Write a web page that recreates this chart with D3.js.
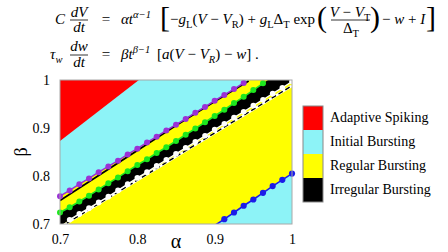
<!DOCTYPE html>
<html>
<head>
<meta charset="utf-8">
<script src="https://cdn.jsdelivr.net/npm/d3@7"></script>
<style>
  html, body { margin: 0; padding: 0; background: #fff; }
  svg text { font-family: "Liberation Serif", "Times New Roman", Tinos, "DejaVu Serif", serif; fill: #000; }
</style>
</head>
<body>
<div id="chartDiv"></div>
<script>
// axis ticks
const alphaTicks = [0.7, 0.8, 0.9, 1];
const betaTicks = [0.7, 0.8, 0.9, 1];

// legend
const categories = ['Adaptive Spiking', 'Initial Bursting', 'Regular Bursting', 'Irregular Bursting'];
const categoryColors = ['#ff0000', '#8df3f7', '#ffff00', '#000000'];

// region boundaries, [alpha, beta]
const redBoundary = [[0.7, 1], [0.802, 1], [0.7, 0.873]];

const purpleLine = [
    [0.7, 0.758], [0.7125, 0.770], [0.725, 0.783], [0.7375, 0.795], [0.75, 0.808],
    [0.7625, 0.820], [0.775, 0.832], [0.7875, 0.845], [0.8, 0.857], [0.8125, 0.870],
    [0.825, 0.882], [0.8375, 0.895], [0.85, 0.907], [0.8625, 0.919], [0.875, 0.932],
    [0.8875, 0.944], [0.9, 0.957], [0.9125, 0.969], [0.925, 0.981], [0.9375, 0.994]
];
const blackLine = [[0.7, 0.749], [0.75, 0.801], [0.8, 0.853], [0.85, 0.905], [0.9, 0.955], [0.944, 0.998]];

const greenLine = [
    [0.7, 0.724], [0.7125, 0.735], [0.725, 0.747], [0.7375, 0.759], [0.75, 0.772],
    [0.7625, 0.785], [0.775, 0.797], [0.7875, 0.810], [0.8, 0.823], [0.8125, 0.835],
    [0.825, 0.848], [0.8375, 0.860], [0.85, 0.873], [0.8625, 0.886], [0.875, 0.899],
    [0.8875, 0.912], [0.9, 0.925], [0.9125, 0.938], [0.925, 0.952], [0.9375, 0.965],
    [0.95, 0.979], [0.9625, 0.993]
];

const whiteLine = [
    [0.7125, 0.709], [0.725, 0.721], [0.7375, 0.733], [0.75, 0.745], [0.7625, 0.757],
    [0.775, 0.770], [0.7875, 0.783], [0.8, 0.796], [0.8125, 0.808], [0.825, 0.821],
    [0.8375, 0.834], [0.85, 0.846], [0.8625, 0.859], [0.875, 0.871], [0.8875, 0.884],
    [0.9, 0.897], [0.9125, 0.909], [0.925, 0.922], [0.9375, 0.934], [0.95, 0.947],
    [0.9625, 0.959], [0.975, 0.972], [0.9875, 0.984], [1.0, 0.997]
];
const dashedLine = [[0.7, 0.693], [1.0, 0.988]];

const blueLine = [
    [0.9, 0.697], [0.9125, 0.710], [0.925, 0.724], [0.9375, 0.738], [0.95, 0.751],
    [0.9625, 0.765], [0.975, 0.779], [0.9875, 0.792], [1.0, 0.805]
];

const sizes = { width: 448, height: 252, left: 60, right: 292, top: 80, bottom: 224 };
const serif = '"Liberation Serif", "Times New Roman", Tinos, "DejaVu Serif", serif';

const svg = d3.create('svg')
    .attr('width', sizes.width)
    .attr('height', sizes.height)
    .attr('font-family', serif);

const x = d3.scaleLinear().domain([0.7, 1]).range([sizes.left, sizes.right]);
const y = d3.scaleLinear().domain([0.7, 1]).range([sizes.bottom, sizes.top]);
const line = d3.line().x(d => x(d[0])).y(d => y(d[1]));

svg.append('clipPath').attr('id', 'plotClip')
    .append('rect')
    .attr('x', sizes.left).attr('y', sizes.top)
    .attr('width', sizes.right - sizes.left).attr('height', sizes.bottom - sizes.top);

const plot = svg.append('g').attr('clip-path', 'url(#plotClip)');

// initial bursting background
plot.append('rect')
    .attr('x', sizes.left).attr('y', sizes.top)
    .attr('width', sizes.right - sizes.left).attr('height', sizes.bottom - sizes.top)
    .attr('fill', categoryColors[1]);

plot.append('path')
    .attr('d', line(redBoundary) + 'Z')
    .attr('fill', categoryColors[0]);

// regular bursting: between purple line and blue line
const yellowPoly = purpleLine
    .concat([[0.944, 1], [1, 1]])
    .concat(blueLine.slice().reverse())
    .concat([[0.7, 0.697]]);
plot.append('path')
    .attr('d', line(yellowPoly) + 'Z')
    .attr('fill', categoryColors[2]);

// irregular bursting: between green and white lines
const blackPoly = greenLine
    .concat([[0.969, 1], [1, 1]])
    .concat(whiteLine.slice().reverse())
    .concat([[0.7, 0.695]]);
plot.append('path')
    .attr('d', line(blackPoly) + 'Z')
    .attr('fill', categoryColors[3]);

plot.append('path')
    .attr('d', line(blackLine))
    .attr('fill', 'none').attr('stroke', '#000').attr('stroke-width', 1.8);

plot.append('path')
    .attr('d', line(dashedLine))
    .attr('fill', 'none').attr('stroke', '#fff').attr('stroke-width', 2.4);
plot.append('path')
    .attr('d', line(dashedLine))
    .attr('fill', 'none').attr('stroke', '#000').attr('stroke-width', 1.4)
    .attr('stroke-dasharray', '5,3');

const series = [
    { pts: purpleLine, color: '#9b30d6', r: 3, w: 1.6 },
    { pts: greenLine, color: '#1ee81e', r: 3, w: 1.6 },
    { pts: whiteLine, color: '#ffffff', r: 2.8, w: 1.3 },
    { pts: blueLine, color: '#1c1ce8', r: 3.1, w: 1.6 }
];
series.forEach(s => {
    plot.append('path')
        .attr('d', line(s.pts))
        .attr('fill', 'none').attr('stroke', s.color).attr('stroke-width', s.w);
});
const dots = svg.append('g');
series.forEach(s => {
    dots.selectAll(null)
        .data(s.pts.filter(d => d[1] >= 0.7))
        .enter().append('circle')
        .attr('cx', d => x(d[0]))
        .attr('cy', d => y(d[1]))
        .attr('r', s.r)
        .attr('fill', s.color);
});

// frame
svg.append('rect')
    .attr('x', sizes.left).attr('y', sizes.top)
    .attr('width', sizes.right - sizes.left).attr('height', sizes.bottom - sizes.top)
    .attr('fill', 'none').attr('stroke', '#a8a8a8').attr('stroke-width', 1);

// axes
const xAxis = svg.append('g')
    .attr('transform', `translate(0,${sizes.bottom})`)
    .call(d3.axisBottom(x).tickValues(alphaTicks).tickSize(0).tickPadding(10).tickFormat(d3.format('~g')));
const yAxis = svg.append('g')
    .attr('transform', `translate(${sizes.left},0)`)
    .call(d3.axisLeft(y).tickValues(betaTicks).tickSize(0).tickPadding(10).tickFormat(d3.format('~g')));
[xAxis, yAxis].forEach(a => {
    a.attr('font-family', serif);
    a.select('.domain').remove();
    a.selectAll('text').attr('font-size', 14).attr('fill', '#000');
});

svg.append('text')
    .attr('x', (sizes.left + sizes.right) / 2).attr('y', 248)
    .attr('text-anchor', 'middle').attr('font-size', 20)
    .text('α');
svg.append('text')
    .attr('transform', `translate(27,${(sizes.top + sizes.bottom) / 2}) rotate(-90)`)
    .attr('text-anchor', 'middle').attr('font-size', 18)
    .text('β');

// legend
const legend = svg.append('g');
legend.selectAll('rect')
    .data(categories)
    .enter().append('rect')
    .attr('x', 303).attr('y', (d, i) => 106 + i * 24)
    .attr('width', 20).attr('height', 24)
    .attr('fill', (d, i) => categoryColors[i]);
legend.append('rect')
    .attr('x', 303).attr('y', 106).attr('width', 20).attr('height', 96)
    .attr('fill', 'none').attr('stroke', '#888').attr('stroke-width', 1);
legend.selectAll('text')
    .data(categories)
    .enter().append('text')
    .attr('x', 330).attr('y', (d, i) => 122 + i * 24)
    .attr('font-size', 14)
    .text(d => d);

// equations
const eq = svg.append('g');
function mathText(px, py, parts, size, anchor) {
    const t = eq.append('text').attr('x', px).attr('y', py).attr('font-size', size)
        .attr('text-anchor', anchor || 'start');
    let shift = 0;
    parts.forEach(p => {
        const o = typeof p === 'string' ? { t: p } : p;
        const want = o.sub ? size * 0.28 : o.sup ? -size * 0.4 : 0;
        const ts = t.append('tspan').text(o.t);
        if (want !== shift) { ts.attr('dy', want - shift); shift = want; }
        if (o.sub || o.sup) ts.attr('font-size', size * 0.7);
        if (o.it) ts.attr('font-style', 'italic');
    });
    return t;
}
function bar(x1, x2, yy) {
    eq.append('line').attr('x1', x1).attr('x2', x2).attr('y1', yy).attr('y2', yy)
        .attr('stroke', '#000').attr('stroke-width', 0.8);
}
const fs = 15;
// row 1
mathText(55, 24, [{ t: 'C', it: true }], fs);
mathText(79, 17, [{ t: 'dV', it: true }], fs, 'middle');
bar(70, 88, 20);
mathText(79, 32, [{ t: 'dt', it: true }], fs, 'middle');
mathText(106, 24, ['='], fs, 'middle');
mathText(121, 24, [{ t: 'αt', it: true }, { t: 'α−1', it: true, sup: true }], fs);
mathText(160, 27, ['['], 30);
mathText(170, 24, ['−', { t: 'g', it: true }, { t: 'L', sub: true }, '(', { t: 'V', it: true }, ' − ',
    { t: 'V', it: true }, { t: 'R', sub: true }, ') + ', { t: 'g', it: true }, { t: 'L', sub: true },
    'Δ', { t: 'T', sub: true }, ' exp'], fs);
mathText(317, 27, ['('], 30);
mathText(350, 17, [{ t: 'V', it: true }, ' − ', { t: 'V', it: true }, { t: 'T', sub: true }], fs, 'middle');
bar(331, 370, 20);
mathText(351, 33, ['Δ', { t: 'T', sub: true }], fs, 'middle');
mathText(370, 27, [')'], 30);
mathText(382, 24, ['− ', { t: 'w', it: true }, ' + ', { t: 'I', it: true }], fs);
mathText(426, 27, [']'], 30);
// row 2
mathText(50, 59, [{ t: 'τ', it: true }, { t: 'w', it: true, sub: true }], fs);
mathText(79, 51, [{ t: 'dw', it: true }], fs, 'middle');
bar(70, 88, 55);
mathText(79, 67, [{ t: 'dt', it: true }], fs, 'middle');
mathText(106, 59, ['='], fs, 'middle');
mathText(121, 59, [{ t: 'βt', it: true }, { t: 'β−1', it: true, sup: true }], fs);
mathText(157, 59, ['[', { t: 'a', it: true }, '(', { t: 'V', it: true }, ' − ', { t: 'V', it: true },
    { t: 'R', it: true, sub: true }, ') − ', { t: 'w', it: true }, '] .'], fs);

d3.select('#chartDiv').append(() => svg.node());
</script>
</body>
</html>
